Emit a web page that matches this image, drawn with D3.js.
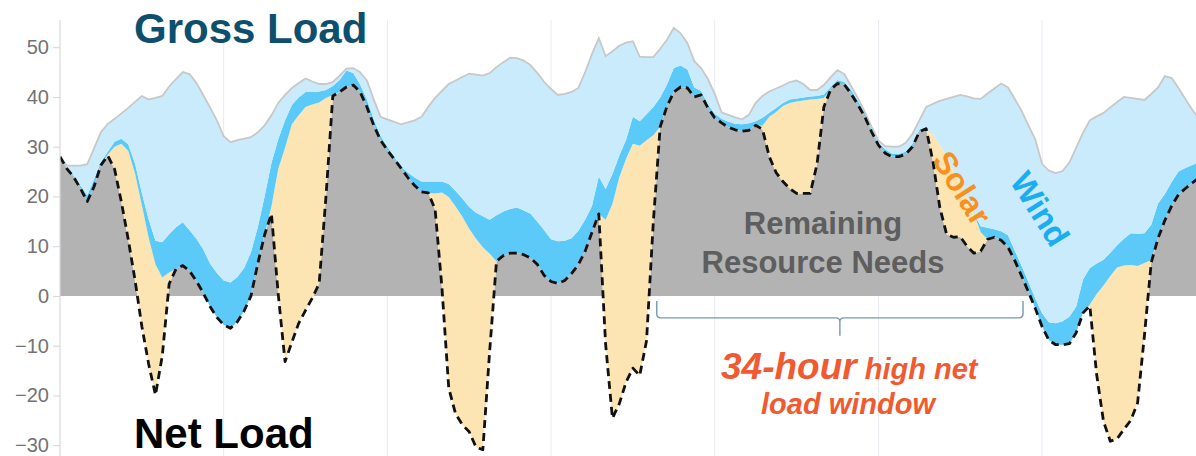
<!DOCTYPE html>
<html>
<head>
<meta charset="utf-8">
<script src="https://cdn.jsdelivr.net/npm/d3@7"></script>
<style>
  html, body { margin: 0; padding: 0; background: #fff; }
  svg { display: block; font-family: "Liberation Sans", Arial, Helvetica, sans-serif; }
</style>
</head>
<body>
<svg id="chart" width="1196" height="456"></svg>
<script>
// Hourly load profile for one week (GW): gross load, net load and the
// renewable layers that sit between them.
const hours = d3.range(168);

const grossLoad = [
  28, 26.2, 26.2, 26.2, 26.5, 29.7, 32.9, 34.6, 35.6, 36.7, 37.8, 39, 40.2, 39.5, 39.8, 40.2, 42.1, 43.6, 45, 44.6, 42.8, 40.4, 37.9, 35.3,
  32.1, 30.9, 31.3, 31.6, 31.9, 32.9, 34.3, 36.3, 38.8, 40.4, 41.8, 42.8, 43.7, 43.1, 42.6, 42.6, 43, 44.3, 45.7, 45.8, 45, 43.3, 39.5, 36,
  35.5, 35, 34.5, 34.9, 35.3, 36, 38, 39.8, 41.2, 42.6, 43.3, 44, 44.7, 44.5, 44.3, 44.8, 46, 47, 47.9, 47.8, 47.3, 46.4, 44.8, 43,
  41.6, 40.4, 40.6, 41, 41.8, 45, 48.6, 51.8, 48.2, 49.2, 50.3, 50.9, 51.2, 48.1, 48, 48, 49.7, 51.5, 53.9, 52.8, 50.8, 47.2, 45.8, 43.6,
  40.6, 36.9, 36.4, 35.9, 35.5, 36.4, 38.8, 40.2, 41.1, 41.7, 42.3, 43, 43.3, 42.6, 41.4, 41.4, 42.4, 44, 45.4, 44.6, 42.2, 39.7, 37, 34,
  31.2, 30.1, 30, 30, 30.8, 32.6, 35.3, 38, 38.6, 39.2, 39.6, 40, 40.4, 40.1, 39.7, 39.6, 40.7, 41.7, 42.7, 41.9, 39.6, 37.2, 34.3, 31.5,
  26.5, 25.2, 24.7, 25.1, 26.8, 29.8, 32.8, 35.3, 36.1, 36.8, 37.9, 39, 40, 39.8, 39.6, 39.4, 40.6, 41.9, 44.2, 43.8, 41.8, 39.6, 37.5, 35.5
];

const netLoad = [
  28, 25.6, 23.9, 21.6, 19, 22, 26.3, 28.2, 25.5, 18.9, 11.4, 3.2, -6.1, -13.7, -19.9, -12, 2.4, 5.4, 6.1, 5, 3, 0.6, -2.1, -4.3,
  -5.8, -6.5, -5.2, -3, 0, 6.5, 12.3, 16.5, 0.3, -13.2, -9.3, -5.5, -2.9, -0.4, 2.5, 20, 40.2, 41, 42, 42.4, 41, 38, 34.3, 31.3,
  29.3, 27.5, 25.7, 23.8, 22.2, 20.9, 20.7, 17.4, 1.7, -18.5, -23.7, -25.9, -27.3, -30.4, -30.9, -11.1, 7, 8.1, 8.6, 8.6, 8.3, 7.6, 6.3, 4.1,
  2.9, 2.5, 3.1, 4.5, 6.3, 9, 12.8, 16.5, -9.7, -24.6, -21.7, -17.3, -14.5, -16, -9, 15, 34, 38.1, 41, 42, 41.8, 40, 40.4, 37.8,
  35.8, 34.8, 33.9, 33.4, 33.1, 33.3, 34.3, 33.5, 28, 24.8, 23, 21.6, 20.6, 20.6, 20.6, 26.5, 38, 41.5, 42.7, 42.5, 40.6, 38.4, 36, 33,
  30.3, 28.7, 28, 28, 28.5, 30, 33, 33.6, 27, 17.8, 12.4, 11.8, 11.9, 10, 8.6, 9, 11.4, 11.8, 11.2, 9.8, 7.1, 4, 0.8, -2.5,
  -6.2, -8.9, -9.8, -9.8, -9.6, -7.4, -3.4, -2, -15.8, -25.2, -29.2, -28.7, -26.8, -25, -21.5, -8, 6.7, 11.6, 15.2, 18.1, 20.4, 21.6, 22.7, 23.8
];

const solar = [
  0, 0, 0, 0, 0, 0, 0, 0.2, 4.5, 11.7, 17.8, 21.4, 24.4, 25.4, 26.2, 15.7, 2.3, 0, 0, 0, 0, 0, 0, 0,
  0, 0, 0, 0, 0, 0, 0, 1.5, 25.2, 43, 43.8, 41.8, 40.9, 38.9, 36.4, 19.8, 0.2, 0, 0, 0, 0, 0, 0, 0,
  0, 0, 0, 0, 0, 0, 0, 3.2, 19.1, 38.4, 41.7, 41.8, 40.8, 41.9, 40.7, 19.6, 0, 0, 0, 0, 0, 0, 0, 0,
  0, 0, 0, 0, 0, 0, 0, 0, 25, 43.1, 45.5, 44.9, 45.1, 46.2, 40.3, 17.3, 0, 0, 0, 0, 0, 0, 0, 0,
  0, 0, 0, 0, 0, 0, 0, 0.7, 8, 12.2, 15.2, 17.2, 18.5, 18.7, 18.9, 13.1, 1.8, 0, 0, 0, 0, 0, 0, 0,
  0, 0, 0, 0, 0, 0, 0, 0.2, 5.4, 12.6, 15.6, 13.4, 10.6, 9.8, 7.9, 3.8, 0, 0, 0, 0, 0, 0, 0, 0,
  0, 0, 0, 0, 0, 0, 0, 0.3, 16.2, 27.3, 33.2, 34.4, 32.9, 31.2, 27.5, 14.6, 0.5, 0, 0, 0, 0, 0, 0, 0
];

const otherClean = [
  0, 0.2, 0.3, 0.6, 1.2, 1.5, 0.6, 0.6, 1, 1, 1.3, 2, 2.4, 3.7, 4.8, 7.1, 7.7, 8.4, 8.7, 8.2, 8.5, 8.8, 8.6, 8.9,
  8.9, 9.2, 9, 8.6, 8.8, 7.3, 7.7, 8.7, 6, 5.5, 3.9, 3.6, 3, 2.5, 2.2, 1.6, 1.8, 2.4, 3.3, 2.4, 1.5, 1.5, 1.2, 0.9,
  0.7, 0.5, 0.3, 1, 1.6, 2.1, 2.3, 2.4, 2.2, 2.6, 3.1, 3.7, 4.4, 5.2, 6.2, 6.8, 9.2, 8.9, 8.9, 9.2, 8.9, 8.9, 8.6, 9.1,
  8.5, 8.5, 8, 7.1, 6.8, 6.3, 5.3, 7.5, 6.2, 6, 4.4, 3.8, 5.4, 4.9, 5.2, 5.7, 5.9, 4.4, 4.8, 4.3, 3.7, 1.9, 0.8, 0.7,
  0.8, 0.8, 1.1, 1.2, 1.4, 1.4, 0.8, 1.6, 0.8, 0.8, 0.6, 0.7, 0.6, 0.6, 0.6, 0.6, 0.7, 0.5, 0.7, 0.5, 0.8, 0.8, 0.8, 0.4,
  0.5, 0.8, 0.6, 0.6, 0.5, 0.6, 0.4, 0.2, 0, 0, 0, 0, 0, 0, 0, 1.2, 2.3, 1.6, 1.8, 2.4, 2, 2, 2, 2,
  2.7, 3.6, 4.3, 4.7, 5.4, 5.3, 6.7, 7.3, 6.1, 5.2, 4.7, 4.5, 5.4, 6.4, 6.5, 6, 7.1, 7, 5.3, 4.8, 4.6, 4.1, 3.6, 3.1
];

const yTicks = [-30, -20, -10, 0, 10, 20, 30, 40, 50];
const dayBreaks = [24, 48, 72, 96, 120, 144];
// High net load window shown with the bracket (hours)
const windowStart = 87.5;
const windowEnd = 141.2;

const colors = {
  gray: "#b3b3b3",
  solar: "#fde5b3",
  otherClean: "#5ccaf9",
  wind: "#c9ebfb",
  grossLine: "#c8c8c8",
  grid: "#e7ebf3"
};

const svg = d3.select("#chart");
const plot = { left: 60, top: 20, right: 1196, bottom: 456 };

const x = d3.scaleLinear().domain([0, 144]).range([60, 1042.1]);
const y = d3.scaleLinear().domain([-30, 50]).range([445.2, 47.2]);

// rows with wind as the remainder between net load + other layers and gross load
const rows = hours.map((h, i) => ({
  h,
  gross: grossLoad[i],
  net: netLoad[i],
  solar: solar[i],
  otherClean: otherClean[i],
  wind: Math.max(0, grossLoad[i] - netLoad[i] - solar[i] - otherClean[i])
}));

// stack the renewable layers on top of the net load line
const stack = d3.stack()
  .keys(["solar", "otherClean", "wind"])
  .offset((series, order) => {
    for (let i = 0; i < series[0].length; i++) {
      let base = rows[i].net;
      for (const j of order) {
        const s = series[j][i];
        const v = s[1] - s[0];
        s[0] = base;
        s[1] = base + v;
        base = s[1];
      }
    }
  });
const layers = stack(rows);

const defs = svg.append("defs");
defs.append("clipPath").attr("id", "plotClip")
  .append("rect")
  .attr("x", plot.left).attr("y", plot.top)
  .attr("width", plot.right - plot.left).attr("height", plot.bottom - plot.top);
defs.append("clipPath").attr("id", "aboveZero")
  .append("rect")
  .attr("x", plot.left).attr("y", plot.top)
  .attr("width", plot.right - plot.left).attr("height", y(0) - plot.top);

// day gridlines
svg.append("g").selectAll("line").data(dayBreaks).join("line")
  .attr("x1", d => x(d)).attr("x2", d => x(d))
  .attr("y1", plot.top).attr("y2", plot.bottom)
  .attr("stroke", colors.grid).attr("stroke-width", 1);

const g = svg.append("g").attr("clip-path", "url(#plotClip)");

// remaining resource needs: positive net load
g.append("path")
  .datum(rows)
  .attr("clip-path", "url(#aboveZero)")
  .attr("fill", colors.gray)
  .attr("d", d3.area().x(d => x(d.h)).y0(y(0)).y1(d => y(d.net)));

g.append("g").selectAll("path").data(layers).join("path")
  .attr("fill", d => colors[d.key])
  .attr("d", d3.area().x(d => x(d.data.h)).y0(d => y(d[0])).y1(d => y(d[1])));

// gross load outline
g.append("path")
  .datum(rows)
  .attr("fill", "none")
  .attr("stroke", colors.grossLine)
  .attr("stroke-width", 1.8)
  .attr("d", d3.line().x(d => x(d.h)).y(d => y(d.gross)));

// net load dashed line
g.append("path")
  .datum(rows)
  .attr("fill", "none")
  .attr("stroke", "#111")
  .attr("stroke-width", 2.8)
  .attr("stroke-dasharray", "8,5")
  .attr("stroke-linejoin", "round")
  .attr("d", d3.line().x(d => x(d.h)).y(d => y(d.net)));

// y axis
const axis = svg.append("g")
  .attr("transform", `translate(${plot.left},0)`)
  .call(d3.axisLeft(y).tickValues(yTicks).tickSize(7).tickPadding(4).tickFormat(d3.format("d")));
axis.select(".domain").remove();
axis.selectAll(".tick line").attr("stroke", "#d6d6d6");
axis.selectAll(".tick text")
  .attr("fill", "#737373")
  .style("font-size", "20px")
  .style("font-family", "'Liberation Sans', Arial, sans-serif");
svg.append("line")
  .attr("x1", plot.left).attr("x2", plot.left)
  .attr("y1", plot.top).attr("y2", plot.bottom)
  .attr("stroke", "#d9d9d9").attr("stroke-width", 1.2);

// labels
svg.append("text")
  .attr("x", 134).attr("y", 43)
  .attr("font-size", 42).attr("font-weight", "bold")
  .attr("fill", "#0d4f6e")
  .text("Gross Load");

svg.append("text")
  .attr("x", 134).attr("y", 448)
  .attr("font-size", 42).attr("font-weight", "bold")
  .attr("fill", "#000")
  .text("Net Load");

const rr = svg.append("text")
  .attr("text-anchor", "middle")
  .attr("font-size", 31).attr("font-weight", "bold")
  .attr("fill", "#5e5e5e");
rr.append("tspan").attr("x", 823).attr("y", 234).text("Remaining");
rr.append("tspan").attr("x", 823).attr("y", 273).text("Resource Needs");

svg.append("text")
  .attr("transform", "translate(962,188) rotate(58)")
  .attr("text-anchor", "middle").attr("dominant-baseline", "central")
  .attr("font-size", 32).attr("font-weight", "bold")
  .attr("fill", "#f7901e")
  .text("Solar");

svg.append("text")
  .attr("transform", "translate(1040,209) rotate(58)")
  .attr("text-anchor", "middle").attr("dominant-baseline", "central")
  .attr("font-size", 33).attr("font-weight", "bold")
  .attr("fill", "#1aadf2")
  .text("Wind");

// bracket marking the high net load window
const bx0 = x(windowStart), bx1 = x(windowEnd), bxm = (bx0 + bx1) / 2;
const bTop = y(-1), bMid = y(-4.4), bTip = y(-8);
svg.append("path")
  .attr("fill", "none")
  .attr("stroke", "#6f9cb3")
  .attr("stroke-width", 1.4)
  .attr("d", `M${bx0},${bTop} V${bMid - 4} Q${bx0},${bMid} ${bx0 + 4},${bMid} H${bxm - 4} Q${bxm},${bMid} ${bxm},${bMid + 4} V${bTip}
              M${bxm},${bMid + 4} Q${bxm},${bMid} ${bxm + 4},${bMid} H${bx1 - 4} Q${bx1},${bMid} ${bx1},${bMid - 4} V${bTop}`);

const note = svg.append("text")
  .attr("font-weight", "bold").attr("font-style", "italic")
  .attr("fill", "#f15a31");
const l1 = note.append("tspan").attr("x", 721).attr("y", 379);
l1.append("tspan").attr("font-size", 37).text("34-hour");
l1.append("tspan").attr("font-size", 29).text(" high net");
note.append("tspan").attr("x", 761).attr("y", 414).attr("font-size", 29).text("load window");
</script>
</body>
</html>
